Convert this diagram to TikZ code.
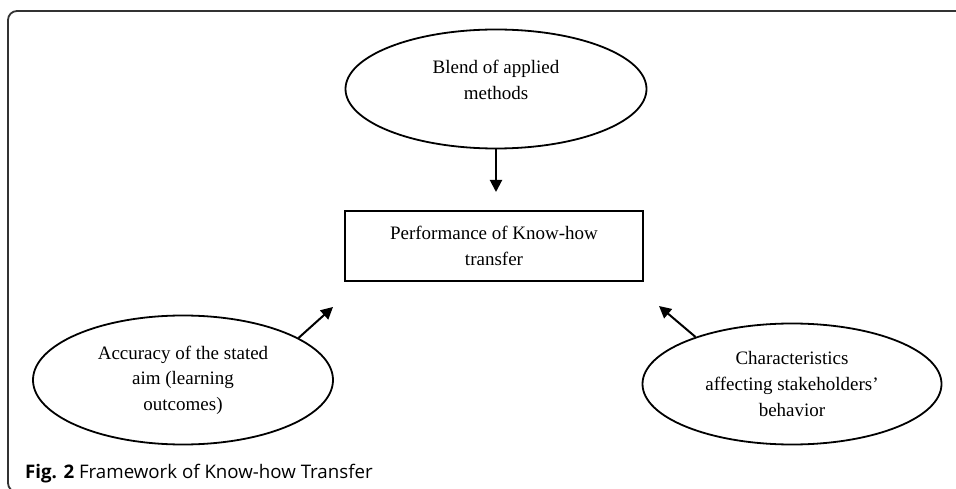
\documentclass[tikz,border=0pt]{standalone}
\usepackage{fontspec}
\setmainfont{Liberation Serif}
\newfontfamily\capfont{Open Sans}
\usetikzlibrary{shapes.geometric,arrows.meta}
\tikzset{
  x=1bp,y=-1bp,
  oval/.style={draw=black,line width=1.8bp,ellipse,inner sep=0pt},
  boxnode/.style={draw=black,line width=1.8bp,rectangle,inner sep=0pt},
  txt/.style={align=center,font=\fontsize{19bp}{25.5bp}\selectfont},
  arr/.style={line width=2bp,-{Triangle[length=12bp,width=12bp]}},
  frame/.style={draw=black!80,line width=1.8bp,rounded corners=9bp}
}
\begin{document}
\begin{tikzpicture}
\useasboundingbox (0,0) rectangle (956,489);
\draw[frame] (970,11) -- (8,11) -- (8,492) -- (970,492);
\node[oval,minimum width=301bp,minimum height=119bp] (blend) at (496,89) {};
\node[txt] (blendtext) at (496,80) {Blend of applied\\methods};
\node[boxnode,txt,minimum width=298bp,minimum height=70bp] (perf) at (494,246) {Performance of Know-how\\transfer};
\node[oval,txt,minimum width=300bp,minimum height=129bp] (acc) at (183,380) {Accuracy of the stated\\aim (learning\\outcomes)};
\node[oval,txt,minimum width=299bp,minimum height=121bp] (chars) at (792,384) {Characteristics\\affecting stakeholders'\\behavior};
\coordinate (ttip) at (496,192);
\coordinate (ltip) at (333,307);
\coordinate (rtip) at (659,306);
\draw[arr] (blend.south) -- (ttip);
\draw[arr] (acc.20) -- (ltip);
\draw[arr] (chars.154) -- (rtip);
\node[anchor=base west,inner sep=0pt,font=\capfont\fontsize{18.7bp}{22bp}\selectfont] (cap) at (25,478) {\textbf{Fig. 2} Framework of Know-how Transfer};
\end{tikzpicture}
\end{document}
